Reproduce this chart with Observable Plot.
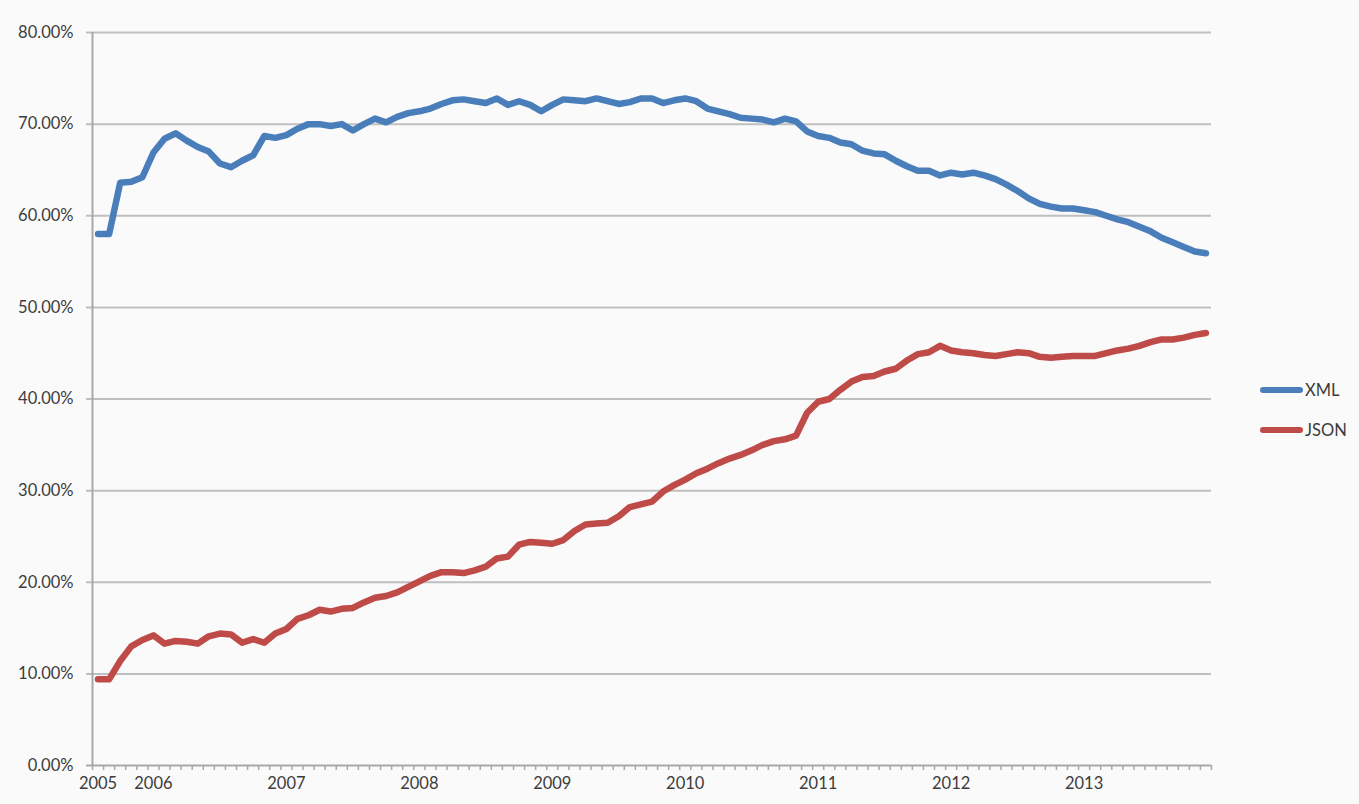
<!DOCTYPE html>
<html><head><meta charset="utf-8">
<script src="https://cdn.jsdelivr.net/npm/d3@7"></script>
<script src="https://cdn.jsdelivr.net/npm/@observablehq/plot@0.6"></script>
<style>
html,body{margin:0;padding:0;background:#fafafa;}
#wrap{position:relative;width:1359px;height:804px;overflow:hidden;}
.legend{position:absolute;left:1260px;font-family:Lato,"Liberation Sans",sans-serif;font-size:16.5px;line-height:18px;color:#3c3c3c;display:flex;align-items:center;}
.sw{display:inline-block;width:43px;height:6px;border-radius:3px;margin-right:2px;}
</style></head><body><div id="wrap"></div>
<script>
// Categories: monthly, Aug 2005 .. Dec 2013
const months = d3.utcMonth.range(new Date(Date.UTC(2005, 7, 1)), new Date(Date.UTC(2014, 0, 1)));
const seriesNames = ["XML", "JSON"];
const seriesColors = ["#4A7EBB", "#BE4B48"];
// Share of APIs (%)
const xmlShare = [58.0, 58.0, 63.6, 63.7, 64.2, 66.9, 68.4, 69.0, 68.2, 67.5,
  67.0, 65.7, 65.3, 66.0, 66.6, 68.7, 68.5, 68.8, 69.5, 70.0,
  70.0, 69.8, 70.0, 69.3, 70.0, 70.6, 70.2, 70.8, 71.2, 71.4,
  71.7, 72.2, 72.6, 72.7, 72.5, 72.3, 72.8, 72.1, 72.5, 72.1,
  71.4, 72.1, 72.7, 72.6, 72.5, 72.8, 72.5, 72.2, 72.4, 72.8,
  72.8, 72.3, 72.6, 72.8, 72.5, 71.7, 71.4, 71.1, 70.7, 70.6,
  70.5, 70.2, 70.6, 70.3, 69.2, 68.7, 68.5, 68.0, 67.8, 67.1,
  66.8, 66.7, 66.0, 65.4, 64.9, 64.9, 64.4, 64.7, 64.5, 64.7,
  64.4, 64.0, 63.4, 62.7, 61.9, 61.3, 61.0, 60.8, 60.8, 60.6,
  60.4, 60.0, 59.6, 59.3, 58.8, 58.3, 57.6, 57.1, 56.6, 56.1,
  55.9];
const jsonShare = [9.4, 9.4, 11.4, 13.0, 13.7, 14.2, 13.3, 13.6, 13.5, 13.3,
  14.1, 14.4, 14.3, 13.4, 13.8, 13.4, 14.4, 14.9, 16.0, 16.4,
  17.0, 16.8, 17.1, 17.2, 17.8, 18.3, 18.5, 18.9, 19.5, 20.1,
  20.7, 21.1, 21.1, 21.0, 21.3, 21.7, 22.6, 22.8, 24.1, 24.4,
  24.3, 24.2, 24.6, 25.6, 26.3, 26.4, 26.5, 27.2, 28.2, 28.5,
  28.8, 29.9, 30.6, 31.2, 31.9, 32.4, 33.0, 33.5, 33.9, 34.4,
  35.0, 35.4, 35.6, 36.0, 38.5, 39.7, 40.0, 41.0, 41.9, 42.4,
  42.5, 43.0, 43.3, 44.2, 44.9, 45.1, 45.8, 45.3, 45.1, 45.0,
  44.8, 44.7, 44.9, 45.1, 45.0, 44.6, 44.5, 44.6, 44.7, 44.7,
  44.7, 45.0, 45.3, 45.5, 45.8, 46.2, 46.5, 46.5, 46.7, 47.0,
  47.2];
const yTicks = [0, 10, 20, 30, 40, 50, 60, 70, 80];
const xTickLabels = ["2005", "2006", "2007", "2008", "2009", "2010", "2011", "2012", "2013"];

const n = months.length;
const data = months.map((m, i) => ({i, m, xml: xmlShare[i], json: jsonShare[i]}));
const labelPositions = months.map((m, i) => ({m, i})).filter(d => d.i === 0 || d.m.getUTCMonth() === 0);
const xLabels = labelPositions.map((d, k) => ({i: d.i, label: xTickLabels[k]}));
const boundaries = d3.range(n + 1).map(k => k - 0.5);

const chart = Plot.plot({
  width: 1359, height: 804,
  marginLeft: 92, marginRight: 148, marginTop: 32, marginBottom: 39,
  x: {type: "linear", domain: [-0.5, n - 0.5], axis: null},
  y: {domain: [0, 80], axis: null},
  style: {fontFamily: "Lato, 'Liberation Sans', sans-serif", fontSize: "16.5px", color: "#3c3c3c", background: "#fafafa", overflow: "visible"},
  marks: [
    Plot.ruleY(yTicks.filter(v => v > 0), {y: d => d, stroke: "#bfbfbf", strokeWidth: 2, insetLeft: -6}),
    Plot.ruleX([-0.5], {x: d => d, y1: 0, y2: 80, stroke: "#a8a8a8", strokeWidth: 2}),
    Plot.ruleY([0], {y: d => d, stroke: "#a8a8a8", strokeWidth: 2, insetLeft: -6}),
    Plot.ruleX(boundaries, {x: d => d, y1: 0, y2: 0, insetBottom: -5, stroke: "#a8a8a8", strokeWidth: 1.5}),
    Plot.text(yTicks, {y: d => d, frameAnchor: "left", dx: -19, textAnchor: "end", text: d => d.toFixed(2) + "%"}),
    Plot.text(xLabels, {x: "i", y: 0, dy: 18, text: "label"}),
    Plot.line(data, {x: "i", y: "xml", stroke: seriesColors[0], strokeWidth: 6.5, strokeLinejoin: "round", strokeLinecap: "round"}),
    Plot.line(data, {x: "i", y: "json", stroke: seriesColors[1], strokeWidth: 6.5, strokeLinejoin: "round", strokeLinecap: "round"})
  ]
});
const wrap = document.getElementById("wrap");
wrap.appendChild(chart);
const legendTops = [381, 421];
seriesNames.forEach((name, k) => {
  const row = document.createElement("div");
  row.className = "legend";
  row.style.top = legendTops[k] + "px";
  const sw = document.createElement("span");
  sw.className = "sw";
  sw.style.background = seriesColors[k];
  row.appendChild(sw);
  row.appendChild(document.createTextNode(name));
  wrap.appendChild(row);
});
</script></body></html>
